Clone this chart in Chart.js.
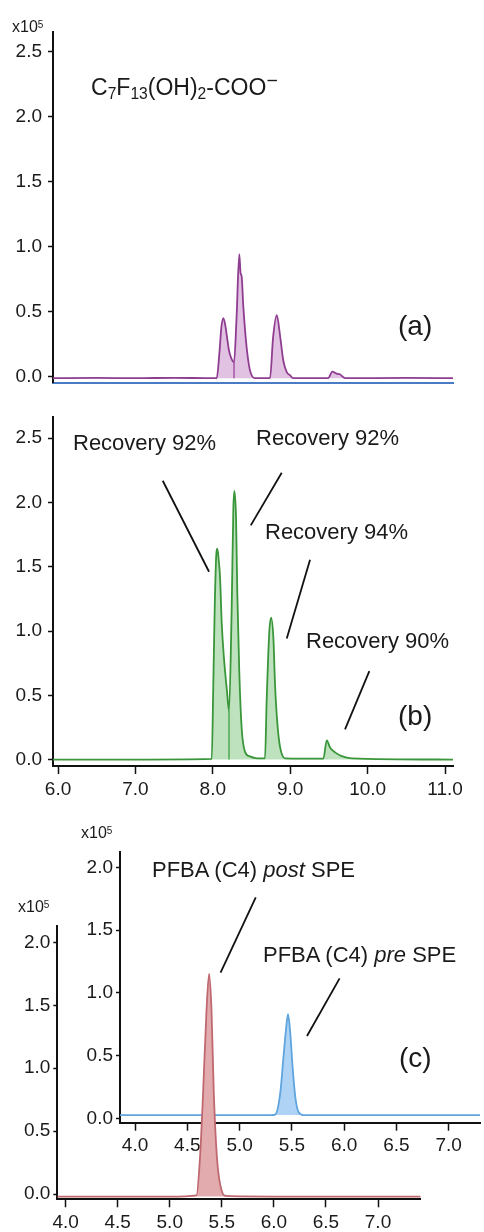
<!DOCTYPE html>
<html>
<head>
<meta charset="utf-8">
<script src="https://cdn.jsdelivr.net/npm/chart.js@4.4.1/dist/chart.umd.min.js"></script>
<style>
  html, body { margin: 0; padding: 0; background: #fff; }
  #page { position: relative; width: 484px; height: 1232px; overflow: hidden;
          font-family: 'Liberation Sans', Arial, sans-serif; color: #1a1a1a; }
  canvas { position: absolute; left: 0; }
  .lbl { position: absolute; white-space: nowrap; line-height: 1; }
  .unit { font-size: 16px; }
  .unit sup { font-size: 10px; vertical-align: 4px; line-height: 0; }
  .note { font-size: 22px; }
  .tag { font-size: 28px; }
  .formula { font-size: 23px; }
  .formula sub { font-size: 0.68em; vertical-align: -4px; line-height: 0; }
  .formula sup { font-size: 0.85em; vertical-align: 0.4em; line-height: 0; }
</style>
</head>
<body>
<div id="page">
  <canvas id="chartA" width="484" height="400" style="top:0px"></canvas>
  <canvas id="chartB" width="484" height="410" style="top:400px"></canvas>
  <canvas id="chartPre" width="484" height="350" style="top:810px"></canvas>
  <canvas id="chartPost" width="484" height="422" style="top:810px"></canvas>

  <div class="lbl unit" style="left:12px;top:19px">x10<sup>5</sup></div>
  <div class="lbl formula" style="left:91px;top:76px">C<sub>7</sub>F<sub>13</sub>(OH)<sub>2</sub>-COO<sup>−</sup></div>
  <div class="lbl tag" style="left:398px;top:312px">(a)</div>

  <div class="lbl note" style="left:73px;top:432px">Recovery 92%</div>
  <div class="lbl note" style="left:256px;top:427px">Recovery 92%</div>
  <div class="lbl note" style="left:265px;top:521px">Recovery 94%</div>
  <div class="lbl note" style="left:306px;top:630px">Recovery 90%</div>
  <div class="lbl tag" style="left:398px;top:702px">(b)</div>

  <div class="lbl unit" style="left:81px;top:825px">x10<sup>5</sup></div>
  <div class="lbl unit" style="left:18px;top:899px">x10<sup>5</sup></div>
  <div class="lbl note" style="left:152px;top:859px">PFBA (C4) <i>post</i> SPE</div>
  <div class="lbl note" style="left:263px;top:944px">PFBA (C4) <i>pre</i> SPE</div>
  <div class="lbl tag" style="left:399px;top:1044px">(c)</div>
</div>

<script>
// Painel (a) - padrão C7F13(OH)2-COO- (tempo em min, sinal x10^5)
const timeA = [5.935, 6.5, 7.0, 7.5, 8.0, 8.05, 8.087, 8.11, 8.136, 8.16, 8.18, 8.21, 8.244, 8.274,
    8.306, 8.342, 8.358, 8.373, 8.394, 8.438, 8.48, 8.545, 8.739, 8.778, 8.826, 8.868, 8.911, 8.955,
    8.997, 9.036, 9.49, 9.544, 9.6, 9.64, 9.71, 10.5, 11.103];
const sigA = [-0.01, -0.008, -0.01, -0.007, -0.01, -0.01, 0.2, 0.38, 0.452, 0.40, 0.32, 0.20, 0.135, 0.111,
    0.45, 0.943, 0.80, 0.77, 0.54, 0.22, 0.05, -0.01, -0.01, 0.30, 0.474, 0.32, 0.124, 0.037,
    0.013, -0.01, -0.01, 0.04, 0.025, 0.02, -0.01, -0.008, -0.01];
const splitTimeA = [8.274, 8.274];
const splitSigA = [0.111, -0.01];

// Painel (b) - recuperação
const timeB = [5.935, 7.0, 7.986, 8.005, 8.025, 8.045, 8.058, 8.075, 8.093, 8.115, 8.145, 8.18, 8.209,
    8.243, 8.265, 8.278, 8.30, 8.316, 8.342, 8.373, 8.416, 8.48, 8.55, 8.62, 8.674, 8.695, 8.73, 8.752,
    8.782, 8.804, 8.834, 8.868, 8.933, 9.428, 9.472, 9.514, 9.579, 9.665, 9.794, 11.103];
const sigB = [0.0, 0.0, 0.005, 0.55, 1.2, 1.6, 1.64, 1.56, 1.42, 1.06, 0.78, 0.55, 0.38,
    1.16, 1.95, 2.09, 1.88, 1.30, 0.68, 0.24, 0.06, 0.025, 0.012, 0.01, 0.01, 0.45, 1.0, 1.105,
    0.95, 0.58, 0.28, 0.10, 0.01, 0.007, 0.15, 0.094, 0.056, 0.027, 0.01, 0.0];
const splitTimeB = [8.209, 8.209];
const splitSigB = [0.38, 0.0];

// Painel (c) - PFBA pós e pré SPE
const timePost = [3.92, 4.5, 5.0, 5.257, 5.289, 5.32, 5.353, 5.378, 5.401, 5.423, 5.455, 5.497, 5.54, 6.0, 7.41];
const sigPost = [-0.02, -0.02, -0.02, -0.01, 0.27, 0.8, 1.46, 1.75, 1.46, 0.8, 0.27, 0.03, -0.015, -0.02, -0.02];
const timePre = [3.856, 5.3, 5.341, 5.389, 5.42, 5.443, 5.463, 5.485, 5.507, 5.533, 5.564, 5.61, 7.30];
const sigPre = [0.026, 0.026, 0.03, 0.2, 0.49, 0.7, 0.83, 0.68, 0.41, 0.17, 0.05, 0.026, 0.026];

// Ticks
const yTicksAB = [0, 0.5, 1.0, 1.5, 2.0, 2.5];
const xTicksB = [6, 7, 8, 9, 10, 11];
const yTicksC = [0, 0.5, 1.0, 1.5, 2.0];
const xTicksC = [4.0, 4.5, 5.0, 5.5, 6.0, 6.5, 7.0];

// Linhas de chamada (tempo1, sinal1, tempo2, sinal2)
const leadersB = [[7.353, 2.169, 7.951, 1.461], [8.89, 2.231, 8.49, 1.822],
    [9.256, 1.555, 8.955, 0.941], [10.022, 0.688, 9.708, 0.235]];
const leadersPost = [[5.826, 2.358, 5.488, 1.759]];
const leadersPre = [[5.957, 1.116, 5.645, 0.656]];

const tickFont = { family: "'Liberation Sans', Arial, sans-serif", size: 19 };
const ink = '#1a1a1a';

// Plugin simples para desenhar as linhas de chamada
const leaderPlugin = {
    id: 'leaders',
    afterDatasetsDraw(chart, args, opts) {
        if (!opts.lines || !opts.lines.length) return;
        const { ctx, scales: { x, y } } = chart;
        ctx.save();
        ctx.strokeStyle = '#111';
        ctx.lineWidth = 1.8;
        opts.lines.forEach(([t1, v1, t2, v2]) => {
            ctx.beginPath();
            ctx.moveTo(x.getPixelForValue(t1), y.getPixelForValue(v1));
            ctx.lineTo(x.getPixelForValue(t2), y.getPixelForValue(v2));
            ctx.stroke();
        });
        ctx.restore();
    }
};

function pairs(ts, vs) {
    return ts.map((t, i) => ({ x: t, y: vs[i] }));
}

function trace(ts, vs, line, fillColor, base) {
    return {
        data: pairs(ts, vs),
        borderColor: line,
        backgroundColor: fillColor,
        borderWidth: 1.8,
        pointRadius: 0,
        cubicInterpolationMode: 'monotone',
        fill: { value: base }
    };
}

function split(ts, vs, line) {
    return { data: pairs(ts, vs), borderColor: line, borderWidth: 1.5, pointRadius: 0, fill: false };
}

function buildChart(id, box) {
    return new Chart(document.getElementById(id), {
        type: 'line',
        data: { datasets: box.datasets },
        plugins: [leaderPlugin],
        options: {
            responsive: false,
            animation: false,
            events: [],
            layout: { padding: { top: box.padTop, right: box.padRight, left: 0, bottom: 0 } },
            plugins: {
                legend: { display: false },
                tooltip: { enabled: false },
                leaders: { lines: box.leaders || [] }
            },
            scales: {
                x: {
                    type: 'linear',
                    min: box.xMin,
                    max: box.xMax,
                    afterFit: s => { s.height = box.xHeight; },
                    afterBuildTicks: s => { s.ticks = box.xTicks.map(v => ({ value: v })); },
                    ticks: {
                        display: box.xLabels,
                        callback: v => v.toFixed(1),
                        font: tickFont,
                        color: ink,
                        padding: 4,
                        maxRotation: 0,
                        autoSkip: false
                    },
                    grid: { display: box.xLabels, drawOnChartArea: false, color: '#111', tickLength: 8, tickWidth: 1.5 },
                    border: { color: box.xBorder || '#111', width: 2 }
                },
                y: {
                    min: box.yMin,
                    max: box.yMax,
                    afterFit: s => { s.width = box.yWidth; },
                    afterBuildTicks: s => { s.ticks = box.yTicks.map(v => ({ value: v })); },
                    ticks: {
                        callback: v => v.toFixed(1),
                        font: tickFont,
                        color: ink,
                        padding: box.yPad
                    },
                    grid: { drawOnChartArea: false, color: '#111', tickLength: box.yTickLen, tickWidth: 1.5 },
                    border: { color: '#111', width: 2 }
                }
            }
        }
    });
}

function initCharts() {
    buildChart('chartA', {
        datasets: [
            trace(timeA, sigA, '#8e3d90', 'rgba(190,120,190,0.45)', -0.01),
            split(splitTimeA, splitSigA, '#8e3d90')
        ],
        padTop: 32, padRight: 31, yWidth: 53, xHeight: 4,
        xMin: 5.935, xMax: 11.103, yMin: -0.044, yMax: 2.652,
        xTicks: xTicksB, yTicks: yTicksAB, xLabels: false,
        xBorder: '#4a7cc6', yPad: 6, yTickLen: 5
    });

    buildChart('chartB', {
        datasets: [
            trace(timeB, sigB, '#3a963a', 'rgba(110,190,110,0.45)', 0),
            split(splitTimeB, splitSigB, '#3a963a')
        ],
        leaders: leadersB,
        padTop: 1, padRight: 31, yWidth: 53, xHeight: 44,
        xMin: 5.935, xMax: 11.103, yMin: -0.05, yMax: 2.662,
        xTicks: xTicksB, yTicks: yTicksAB, xLabels: true,
        yPad: 6, yTickLen: 5
    });

    buildChart('chartPre', {
        datasets: [trace(timePre, sigPre, '#5ea4de', 'rgba(110,175,235,0.55)', 0.026)],
        leaders: leadersPre,
        padTop: 41.7, padRight: 4, yWidth: 120, xHeight: 37.3,
        xMin: 3.856, xMax: 7.30, yMin: -0.035, yMax: 2.126,
        xTicks: xTicksC, yTicks: yTicksC, xLabels: true,
        yPad: 3, yTickLen: 4
    });

    buildChart('chartPost', {
        datasets: [trace(timePost, sigPost, '#bf6870', 'rgb(226,172,175)', -0.02)],
        leaders: leadersPost,
        padTop: 116, padRight: 63.3, yWidth: 57.3, xHeight: 32.7,
        xMin: 3.92, xMax: 7.41, yMin: -0.042, yMax: 2.13,
        xTicks: xTicksC, yTicks: yTicksC, xLabels: true,
        yPad: 3, yTickLen: 4
    });
}

document.addEventListener('DOMContentLoaded', initCharts);
</script>
</body>
</html>
